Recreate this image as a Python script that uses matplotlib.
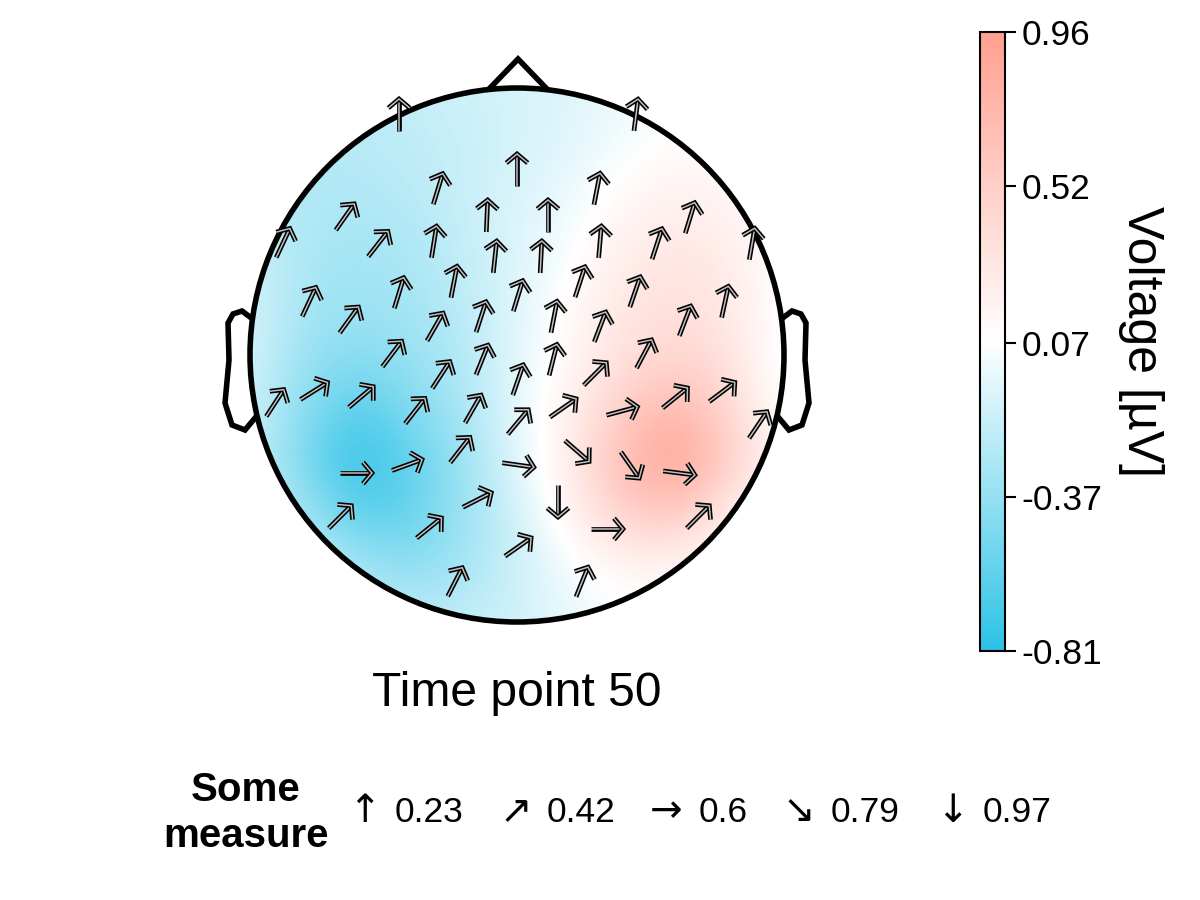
import numpy as np
import matplotlib
matplotlib.use('Agg')
import matplotlib.pyplot as plt
import matplotlib.patheffects as pe
from matplotlib.colors import LinearSegmentedColormap, Normalize
from matplotlib.cm import ScalarMappable
from matplotlib.patches import Circle

plt.rcParams['font.family'] = ['Liberation Sans', 'DejaVu Sans']

# Electrode positions, head centre is 0,0 and the head radius 267
elec_x = [-118, 119, 0, -79, 80, -30, 31, -172, 173, -139, -83, -234, 83, 140, 235, -22,
          24, -63, 63, -118, 118, 1, -208, 208, -168, 168, -36, 37, -82, 83, -125, 127,
          -35, 36, -76, 78, 1, -44, -102, -156, -203, -242, 46, 105, 158, 205,
          241, 1, -57, -110, -161, 1, 60, 113, 162, -177, -88, -40, 41, 90, 181, 1, -62, 65]
elec_y = [240, 240, 185, 166, 166, 139, 139, 138, 137, 111, 113, 112, 113, 111, 111, 98,
          98, 73, 73, 62, 63, 59, 53, 53, 35, 34, 38, 38, 28, 28, 1, 1,
          -5, -5, -20, -19, -25, -54, -56, -42, -36, -48, -53, -56, -43, -37,
          -70, -67, -95, -110, -118, -110, -96, -110, -118, -162, -173, -145, -146, -174, -162, -192, -227, -227]

# Measure per electrode, this sets the arrow direction
measure = [0.23, 0.26, 0.23, 0.30, 0.275, 0.24, 0.23, 0.374, 0.30, 0.386, 0.267, 0.333, 0.25, 0.304, 0.27, 0.255,
           0.242, 0.275, 0.304, 0.30, 0.308, 0.30, 0.333, 0.28, 0.378, 0.316, 0.304, 0.275, 0.353, 0.316, 0.382, 0.345,
           0.32, 0.288, 0.366, 0.415, 0.308, 0.353, 0.386, 0.435, 0.468, 0.366, 0.456, 0.538, 0.44, 0.448,
           0.37, 0.394, 0.386, 0.518, 0.60, 0.633, 0.768, 0.826, 0.63, 0.415, 0.44, 0.489, 0.97, 0.60, 0.415, 0.456, 0.341, 0.32]

legend_values = [0.23, 0.42, 0.6, 0.79, 0.97]
legend_arrows = ['↑', '↗', '→', '↘', '↓']
cbar_ticks = [-0.81, -0.37, 0.07, 0.52, 0.96]

# Voltage read on a coarse grid over the head, top row first
grid_x = [-265, -212, -159, -106, -53, 0, 53, 106, 159, 212, 265]
grid_y = [266, 213, 160, 107, 54, 1, -52, -105, -158, -211, -264]
voltage = [
    [-0.20, -0.20, -0.20, -0.16, -0.12, -0.10, -0.06, 0.00, 0.05, 0.05, 0.05],
    [-0.25, -0.25, -0.22, -0.20, -0.15, -0.10, -0.06, 0.03, 0.10, 0.10, 0.05],
    [-0.22, -0.25, -0.25, -0.22, -0.15, -0.08, 0.00, 0.12, 0.20, 0.15, 0.05],
    [-0.15, -0.27, -0.30, -0.27, -0.17, -0.07, 0.05, 0.22, 0.30, 0.25, 0.05],
    [-0.10, -0.30, -0.33, -0.30, -0.20, -0.06, 0.10, 0.30, 0.36, 0.28, 0.05],
    [-0.10, -0.35, -0.42, -0.35, -0.23, -0.04, 0.14, 0.35, 0.45, 0.33, 0.02],
    [-0.12, -0.42, -0.62, -0.45, -0.28, -0.03, 0.20, 0.52, 0.72, 0.43, 0.04],
    [-0.15, -0.50, -0.81, -0.58, -0.33, -0.05, 0.25, 0.70, 0.96, 0.55, 0.10],
    [-0.12, -0.32, -0.62, -0.58, -0.33, -0.12, 0.18, 0.52, 0.60, 0.22, 0.04],
    [-0.08, -0.18, -0.30, -0.42, -0.30, -0.14, 0.03, 0.16, 0.16, 0.08, 0.03],
    [-0.05, -0.10, -0.15, -0.20, -0.18, -0.12, -0.02, 0.04, 0.05, 0.04, 0.03],
]

# Head outline
nose_x = [-27, 1, 29]
nose_y = [267, 296, 267]
ear_x = [-267, -275, -284, -289, -288, -292, -285, -272, -262]
ear_y = [38, 44, 41, 32, -5, -48, -70, -75, -63]

cmap = LinearSegmentedColormap.from_list('topo', ['#2cc2e6', '#ffffff', '#ff9f90'])
norm = Normalize(cbar_ticks[0], cbar_ticks[-1])


def draw_arrow(ax, x, y, value, length=32, barb=14):
    # 0.23 points up, 0.97 points down, turning clockwise
    angle = np.radians((value - 0.23) / (0.97 - 0.23) * 180)
    dx, dy = np.sin(angle), np.cos(angle)
    tip = (x + dx * length / 2, y + dy * length / 2)
    tail = (x - dx * length / 2, y - dy * length / 2)
    xs = [tail[0], tip[0]]
    ys = [tail[1], tip[1]]
    bx, by = [], []
    for side in (-1, 1):
        a = angle + np.pi + side * np.radians(50)
        bx.append(tip[0] + np.sin(a) * barb)
        by.append(tip[1] + np.cos(a) * barb)
    effects = [pe.Stroke(linewidth=3.4, foreground='black'),
               pe.Stroke(linewidth=1.1, foreground=(1, 1, 1, 0.75))]
    ax.plot(xs, ys, lw=1, zorder=5, solid_capstyle='butt', path_effects=effects)
    ax.plot([bx[0], tip[0], bx[1]], [by[0], tip[1], by[1]], lw=1, zorder=5,
            solid_capstyle='butt', solid_joinstyle='miter', path_effects=effects)


fig = plt.figure(figsize=(12, 9), dpi=100)

# Whole figure axes, one unit is one pixel
ax = fig.add_axes([0, 0, 1, 1])
step = grid_x[1] - grid_x[0]
im = ax.imshow(voltage, cmap=cmap, norm=norm, interpolation='bicubic', aspect='auto', zorder=1,
               extent=[grid_x[0] - step / 2, grid_x[-1] + step / 2,
                       grid_y[-1] - step / 2, grid_y[0] + step / 2])
ax.set_xlim(-517, 683)
ax.set_ylim(-545, 355)
ax.axis('off')
im.set_clip_path(Circle((0, 0), 267, transform=ax.transData))

ax.add_patch(Circle((0, 0), 267, fill=False, ec='black', lw=4.0, zorder=3))
ax.plot(nose_x, nose_y, color='black', lw=4.0, zorder=3, solid_joinstyle='miter')
ax.plot(ear_x, ear_y, color='black', lw=4.0, zorder=2, solid_joinstyle='miter')
ax.plot(-np.array(ear_x), ear_y, color='black', lw=4.0, zorder=2, solid_joinstyle='miter')

for x, y, value in zip(elec_x, elec_y, measure):
    draw_arrow(ax, x, y, value)

ax.text(0, -338, 'Time point 50', fontsize=34.6, ha='center', va='center')

# Arrow legend along the bottom
ax.text(-271, -458, 'Some\nmeasure', fontsize=29, fontweight='bold', ha='center', va='center',
        linespacing=1.26)
arrow_pos = [-153, -1, 149, 282, 435]
label_pos = [-122, 30, 182, 314, 466]
for a, gx, lx, value in zip(legend_arrows, arrow_pos, label_pos, legend_values):
    ax.text(gx, -456, a, fontsize=28, ha='center', va='center', family='DejaVu Sans')
    ax.text(lx, -458, str(value), fontsize=25.5, ha='left', va='center')

# Colorbar
cax = fig.add_axes([980 / 1200, 1 - 651 / 900, 25 / 1200, 619 / 900])
cb = fig.colorbar(ScalarMappable(norm=norm, cmap=cmap), cax=cax)
cb.set_ticks(cbar_ticks)
cb.set_ticklabels(['-0.81', '-0.37', '0.07', '0.52', '0.96'])
cb.ax.tick_params(length=8, width=1.5, labelsize=25.5, pad=4)
cb.outline.set_linewidth(1.5)
cb.set_label('Voltage [µV]', fontsize=36, rotation=270, labelpad=44)

fig.savefig('out.png', dpi=100)
